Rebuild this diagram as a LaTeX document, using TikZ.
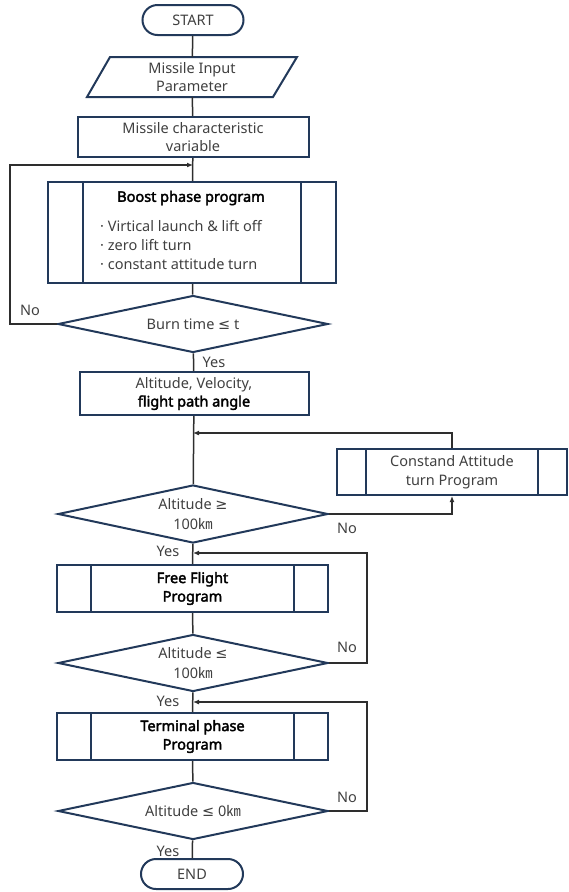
\documentclass[tikz,border=0pt]{standalone}
\usepackage{fontspec}
\setmainfont{Noto Sans}[AutoFakeBold=2.5]
\newfontfamily\symfont{DejaVu Sans}
\newfontfamily\cjk{Noto Sans CJK KR}
\usepackage{tikz}
\usetikzlibrary{arrows.meta, shapes.geometric}
\usepackage{xcolor}
\definecolor{boxblue}{HTML}{22395A}
\definecolor{txtgray}{HTML}{404040}
\definecolor{linegray}{HTML}{2E2E2E}
\newcommand{\km}{{\cjk ㎞}}
\newcommand{\lesym}{{\symfont ≤}}
\newcommand{\gesym}{{\symfont ≥}}

\tikzset{
  box/.style = {draw=boxblue, line width=2pt, text=txtgray, align=center, inner sep=0pt},
  subproc/.style = {box, path picture={
      \draw[boxblue, line width=2pt]
        ([xshift=#1]path picture bounding box.north west) -- ([xshift=#1]path picture bounding box.south west)
        ([xshift=-#1]path picture bounding box.north east) -- ([xshift=-#1]path picture bounding box.south east);}},
  subproc/.default = 35pt,
  decide/.style = {box, diamond, aspect=4.7, minimum width=270pt, minimum height=57pt},
  link/.style = {linegray, line width=1.5pt},
  arr/.style = {link, -{Latex[length=6pt, width=5pt]}},
  lbl/.style = {text=txtgray, inner sep=0pt}
}

\begin{document}
\begin{tikzpicture}[x=1pt, y=-1pt, font=\fontsize{14.5}{18.5}\selectfont]
\useasboundingbox (0,0) rectangle (568,892);

\node[box, rounded corners=15pt, minimum width=101pt, minimum height=30pt] (start) at (193,20) {START};

\draw[boxblue, line width=2pt] (87,97) -- (110,57) -- (297,57) -- (273,97) -- cycle;
\node[lbl, align=center, minimum width=187pt, minimum height=40pt] (input) at (192,77) {Missile Input\\Parameter};

\node[box, minimum width=231pt, minimum height=40pt] (chars) at (193,137) {Missile characteristic\\variable};

\coordinate (m1) at (193,165);
\node[subproc, minimum width=288pt, minimum height=101pt] (boost) at (192,232.5) {};
\node[anchor=center, inner sep=0pt] (boost_t) at (191,198) {\textbf{Boost phase program}};
\node[lbl, anchor=north west, align=left, font=\fontsize{14.5}{19}\selectfont] (boost_l) at (100,220)
  {· Virtical launch \& lift off\\· zero lift turn\\· constant attitude turn};

\node[decide] (burn) at (193,324) {Burn time \lesym{} t};
\node[lbl] (burn_no) at (30,310) {No};
\node[lbl] (burn_yes) at (214,362) {Yes};

\node[box, minimum width=229pt, minimum height=43pt] (alt) at (194,393.5) {Altitude, Velocity,\\\textcolor{black}{\textbf{flight path angle}}};

\coordinate (m2) at (193,433);
\node[subproc=29pt, minimum width=230pt, minimum height=46pt] (const) at (452,472) {Constand Attitude\\turn Program};

\node[decide, minimum height=58pt] (high) at (193,514) {Altitude \gesym\\[1pt]100\km};
\node[lbl] (high_no) at (347,528) {No};
\node[lbl] (high_yes) at (168,551) {Yes};

\coordinate (m3) at (193,553);
\node[subproc=34pt, minimum width=271pt, minimum height=47pt] (free) at (192.5,588.5) {\textcolor{black}{\textbf{Free Flight}}\\\textcolor{black}{\textbf{Program}}};

\node[decide] (low) at (193,663) {Altitude \lesym\\[1pt]100\km};
\node[lbl] (low_no) at (347,647) {No};
\node[lbl] (low_yes) at (168,701) {Yes};

\coordinate (m4) at (193,702);
\node[subproc=34pt, minimum width=271pt, minimum height=47pt] (term) at (192.5,736.5) {\textcolor{black}{\textbf{Terminal phase}}\\\textcolor{black}{\textbf{Program}}};

\node[decide] (ground) at (193,811) {Altitude \lesym{} 0\km};
\node[lbl] (ground_no) at (347,797) {No};
\node[lbl] (ground_yes) at (168,851) {Yes};

\node[box, rounded corners=15pt, minimum width=102pt, minimum height=30pt] (end) at (192,874) {END};

\draw[link] (start) -- (input);
\draw[link] (input) -- (chars);
\draw[link] (chars) -- (boost);
\draw[link] (boost) -- (burn);
\draw[arr] (burn.west) -- (10,324) |- (m1);
\draw[link] (burn) -- (alt);
\draw[link] (alt) -- (high);
\draw[arr] (high.east) -| (const.south);
\draw[arr] (const.north) |- (m2);
\draw[link] (high) -- (free);
\draw[link] (free) -- (low);
\draw[arr] (low.east) -- (367,663) |- (m3);
\draw[link] (low) -- (term);
\draw[link] (term) -- (ground);
\draw[arr] (ground.east) -- (367,811) |- (m4);
\draw[link] (ground) -- (end);
\end{tikzpicture}
\end{document}
